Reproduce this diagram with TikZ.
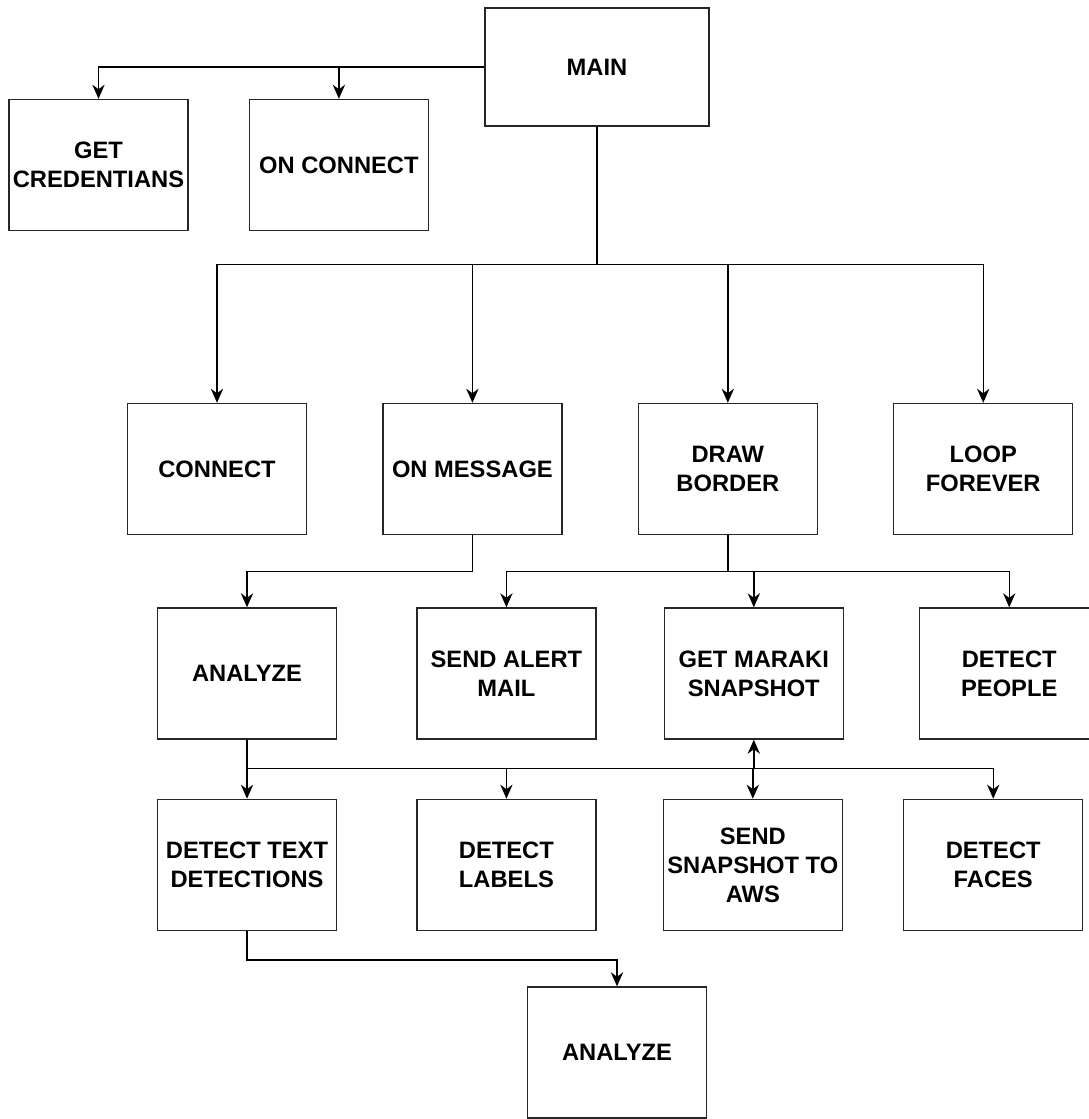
\documentclass[tikz,border=0pt]{standalone}
\usepackage{fontspec}
\setmainfont{Liberation Sans}
\usetikzlibrary{arrows.meta, positioning}

\begin{document}
\begin{tikzpicture}[node distance=1.5cm and 1.5cm, >={Stealth[length=8pt, width=7pt]}, line width=0.8pt]
    \tikzset{
        block/.style={rectangle, draw=black!85, minimum height=2.62cm, minimum width=3.58cm, inner sep=1pt, align=center, font=\bfseries\fontsize{13.5}{16.5}\selectfont},
        line/.style={draw, ->}
    }
    \useasboundingbox (0,0) rectangle (21.76,-22.38);

    \node (Main) [block, minimum width=4.48cm, minimum height=2.36cm] at (11.94,-1.34) {MAIN};
    \node (GetCred) [block] at (1.97,-3.30) {GET\\CREDENTIANS};
    \node (OnConnect) [block, right=1.2cm of GetCred] {ON CONNECT};

    \node (Connect) [block] at (4.34,-9.38) {CONNECT};
    \node (OnMessage) [block, right=1.5cm of Connect] {ON MESSAGE};
    \node (DrawBorder) [block, right=1.5cm of OnMessage] {DRAW\\BORDER};
    \node (Loop) [block, right=1.5cm of DrawBorder] {LOOP\\FOREVER};

    \node (Analyze) [block] at (4.94,-13.47) {ANALYZE};
    \node (SendAlert) [block, right=1.58cm of Analyze] {SEND ALERT\\MAIL};
    \node (Maraki) [block, right=1.34cm of SendAlert] {GET MARAKI\\SNAPSHOT};
    \node (People) [block, right=1.5cm of Maraki] {DETECT\\PEOPLE};

    \node (DetectText) [block, below=1.18cm of Analyze] {DETECT TEXT\\DETECTIONS};
    \node (Labels) [block, right=1.58cm of DetectText] {DETECT\\LABELS};
    \node (Aws) [block, right=1.32cm of Labels] {SEND\\SNAPSHOT TO\\AWS};
    \node (Faces) [block, right=1.2cm of Aws] {DETECT\\FACES};

    \node (Analyze2) [block] at (12.34,-21.05) {ANALYZE};

    \path [line] (Main.west) -| (GetCred.north);
    \path [line] (Main.west) -| (OnConnect.north);

    % main to second row
    \path [line] (Main.south) -- ++(0,-2.76) -| (Connect.north);
    \path [line] (Main.south) -- ++(0,-2.76) -| (OnMessage.north);
    \path [line] (Main.south) -- ++(0,-2.76) -| (DrawBorder.north);
    \path [line] (Main.south) -- ++(0,-2.76) -| (Loop.north);

    \path [line] (OnMessage.south) -- ++(0,-0.73) -| (Analyze.north);
    \path [line] (DrawBorder.south) -- ++(0,-0.73) -| (SendAlert.north);
    \path [line] (DrawBorder.south) -- ++(0,-0.73) -| (Maraki.north);
    \path [line] (DrawBorder.south) -- ++(0,-0.73) -| (People.north);

    % analyze to detections
    \path [line] (Analyze.south) -- ++(0,-0.58) -| (DetectText.north);
    \path [line] (Analyze.south) -- ++(0,-0.58) -| (Labels.north);
    \path [line] (Analyze.south) -- ++(0,-0.58) -| (Aws.north);
    \path [line] (Analyze.south) -- ++(0,-0.58) -| (Maraki.south);
    \path [line] (Analyze.south) -- ++(0,-0.58) -| (Faces.north);

    \path [line] (DetectText.south) -- ++(0,-0.58) -| (Analyze2.north);
\end{tikzpicture}
\end{document}
